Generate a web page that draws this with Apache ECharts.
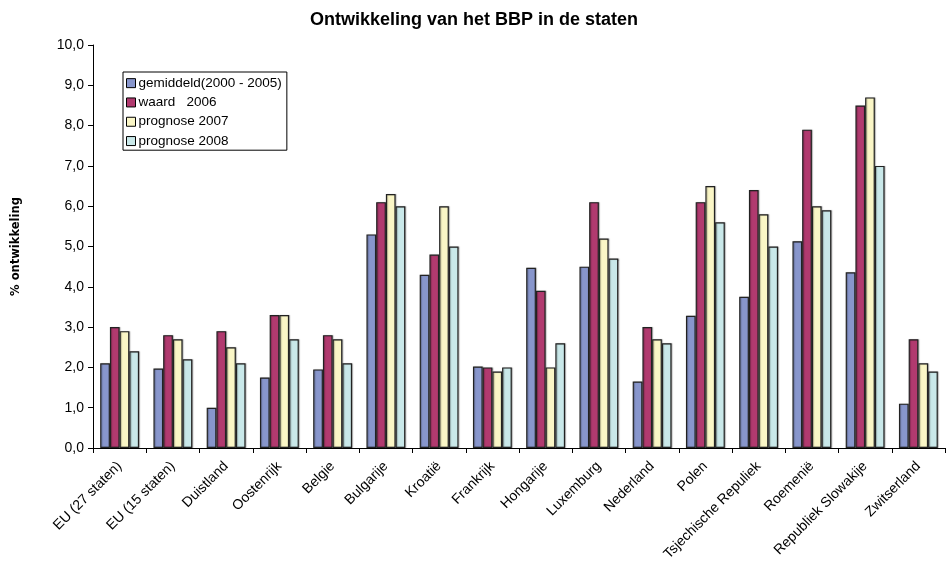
<!DOCTYPE html>
<html>
<head>
<meta charset="utf-8">
<script src="https://cdn.jsdelivr.net/npm/echarts@6/dist/echarts.min.js"></script>
<style>
  html, body { margin: 0; padding: 0; background: #fff; }
  #chart { width: 951px; height: 570px; }
</style>
</head>
<body>
<div id="chart"></div>
<script>
// GDP growth per state (%)
const categories = ['EU (27 staten)', 'EU (15 staten)', 'Duistland', 'Oostenrijk', 'Belgie', 'Bulgarije', 'Kroatië', 'Frankrijk', 'Hongarije', 'Luxemburg', 'Nederland', 'Polen', 'Tsjechische Repuliek', 'Roemenië', 'Republiek Slowakije', 'Zwitserland'];
const seriesNames = ['gemiddeld(2000 - 2005)', 'waard   2006', 'prognose 2007', 'prognose 2008'];
const avg2000_2005 = [2.1, 1.97, 1.0, 1.75, 1.95, 5.3, 4.3, 2.02, 4.47, 4.5, 1.65, 3.28, 3.75, 5.13, 4.36, 1.1];
const value2006    = [3.0, 2.8, 2.9, 3.3, 2.8, 6.1, 4.8, 2.0, 3.9, 6.1, 3.0, 6.1, 6.4, 7.9, 8.5, 2.7];
const forecast2007 = [2.9, 2.7, 2.5, 3.3, 2.7, 6.3, 6.0, 1.9, 2.0, 5.2, 2.7, 6.5, 5.8, 6.0, 8.7, 2.1];
const forecast2008 = [2.4, 2.2, 2.1, 2.7, 2.1, 6.0, 5.0, 2.0, 2.6, 4.7, 2.6, 5.6, 5.0, 5.9, 7.0, 1.9];
const yTicks = { min: 0, max: 10, interval: 1 };

const colors = ['#8896CC', '#B13A6F', '#FAF6C6', '#C9E8E9'];
const allValues = [avg2000_2005, value2006, forecast2007, forecast2008];
const FONT = 'Liberation Sans, Arial, sans-serif';

const chart = echarts.init(document.getElementById('chart'), null, { renderer: 'canvas' });
chart.setOption({
  animation: false,
  backgroundColor: '#ffffff',
  textStyle: { fontFamily: FONT },
  title: {
    text: 'Ontwikkeling van het BBP in de staten',
    left: 469, top: 6, textAlign: 'center',
    textStyle: { fontSize: 18, fontWeight: 'bold', color: '#000', fontFamily: FONT }
  },
  legend: {
    orient: 'vertical',
    left: 123, top: 72,
    padding: [4, 5, 2, 3],
    itemGap: 5,
    itemWidth: 9, itemHeight: 9,
    icon: 'rect',
    backgroundColor: '#fff',
    borderColor: '#000', borderWidth: 1,
    textStyle: { fontSize: 13.5, lineHeight: 14.3, color: '#000', padding: [0, 0, 0, -2], fontFamily: FONT },
    itemStyle: { borderColor: '#000', borderWidth: 1 },
    data: seriesNames
  },
  grid: { left: 93, right: 6, top: 45, bottom: 122 },
  xAxis: {
    type: 'category',
    data: categories,
    axisLine: { lineStyle: { color: '#000', width: 1 } },
    axisTick: { show: true, length: 5, lineStyle: { color: '#000' } },
    axisLabel: {
      rotate: 45, interval: 0, margin: 16,
      fontSize: 14, color: '#000', fontFamily: FONT
    }
  },
  yAxis: {
    type: 'value',
    min: yTicks.min, max: yTicks.max, interval: yTicks.interval,
    name: '% ontwikkeling',
    nameLocation: 'middle',
    nameGap: 71,
    nameTextStyle: { fontSize: 11.5, fontWeight: 'bold', color: '#000', fontFamily: 'DejaVu Sans, sans-serif' },
    axisLine: { show: true, lineStyle: { color: '#000', width: 1 } },
    axisTick: { show: true, length: 5, lineStyle: { color: '#000' } },
    splitLine: { show: false },
    axisLabel: {
      margin: 9, fontSize: 14, color: '#000', fontFamily: FONT,
      formatter: v => v.toFixed(1).replace('.', ',')
    }
  },
  series: allValues.map((vals, i) => ({
    name: seriesNames[i],
    type: 'bar',
    data: vals,
    barGap: '0%',
    barCategoryGap: '27%',
    itemStyle: {
      color: colors[i],
      borderColor: '#222',
      borderWidth: 1.2,
      shadowColor: 'rgba(0,0,0,0.25)',
      shadowBlur: 1,
      shadowOffsetX: 1,
      shadowOffsetY: 0
    }
  }))
});
</script>
</body>
</html>
